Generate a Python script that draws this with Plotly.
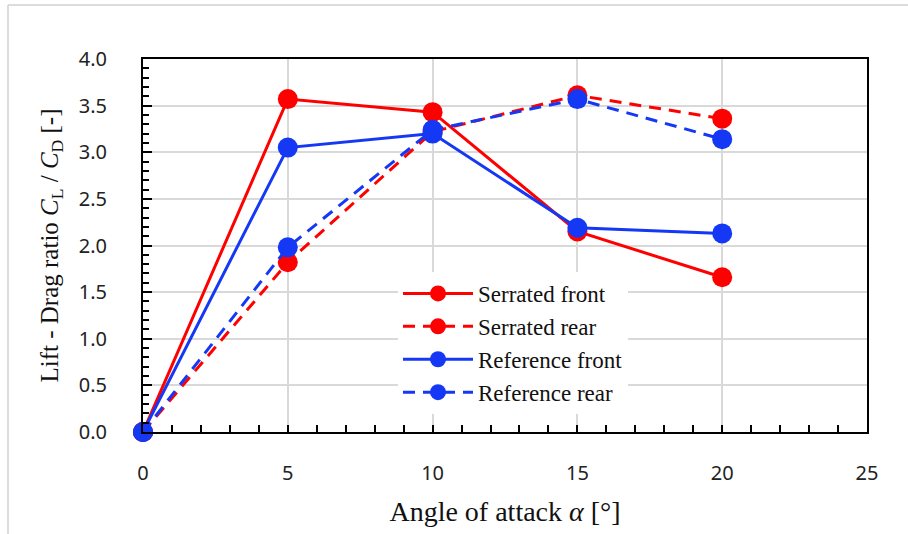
import plotly.graph_objects as go

# Angle of attack (deg) and lift-to-drag ratio for each configuration
alpha = [0, 5, 10, 15, 20]
serrated_front = [0.0, 3.57, 3.43, 2.15, 1.66]
serrated_rear = [0.0, 1.82, 3.22, 3.61, 3.36]
reference_front = [0.0, 3.05, 3.20, 2.19, 2.13]
reference_rear = [0.0, 1.98, 3.24, 3.57, 3.14]

series_names = ["Serrated front", "Serrated rear", "Reference front", "Reference rear"]
series_values = [serrated_front, serrated_rear, reference_front, reference_rear]

RED = "#ff0000"
BLUE = "#1538f5"
styles = [(RED, "solid"), (RED, "12px,8px"), (BLUE, "solid"), (BLUE, "12px,8px")]

W, H = 908, 534
L, R, T, B = 143, 41, 59, 102

fig = go.Figure()
for name, vals, (col, dash) in zip(series_names, series_values, styles):
    fig.add_trace(go.Scatter(
        x=alpha, y=vals, name=name, mode="lines+markers",
        line=dict(color=col, width=3, dash=dash),
        marker=dict(color=col, size=20, symbol="circle"),
        cliponaxis=False,
    ))

serif = "Liberation Serif"
sans = "Noto Sans"
pw = W - L - R
ph = H - T - B

fig.update_layout(
    width=W, height=H,
    margin=dict(l=L, r=R, t=T, b=B),
    paper_bgcolor="white", plot_bgcolor="white",
    showlegend=True,
    legend=dict(
        x=(398 - L) / pw, y=(432 - 272) / ph, xanchor="left", yanchor="top",
        bgcolor="white", borderwidth=0,
        font=dict(family=serif, size=23, color="#111"),
        itemwidth=70, tracegroupgap=0,
    ),
    xaxis=dict(
        range=[0, 25], tick0=0, dtick=5,
        showgrid=True, gridcolor="#d9d9d9", gridwidth=1.5,
        zeroline=False, showline=True, linecolor="black", linewidth=2, mirror=True,
        ticks="inside", ticklen=7, tickwidth=1.5, tickcolor="black",
        minor=dict(dtick=1, ticks="inside", ticklen=7, tickwidth=1.5, tickcolor="black", showgrid=False),
        tickfont=dict(family=sans, size=20, color="#222"),
        ticklabelstandoff=22,
        title=dict(text="Angle of attack <i>α</i> [°]", font=dict(family=serif, size=28, color="#111"), standoff=16),
    ),
    yaxis=dict(
        range=[0, 4.0], tick0=0, dtick=0.5, tickformat=".1f",
        showgrid=True, gridcolor="#d9d9d9", gridwidth=1.5,
        zeroline=False, showline=True, linecolor="black", linewidth=2, mirror=True,
        ticks="inside", ticklen=9, tickwidth=1.5, tickcolor="black",
        minor=dict(dtick=0.1, ticks="inside", ticklen=6, tickwidth=1.5, tickcolor="black", showgrid=False),
        tickfont=dict(family=sans, size=20, color="#222"),
        ticklabelstandoff=30,
        title=dict(text="Lift - Drag ratio <i>C</i><sub>L</sub> / <i>C</i><sub>D</sub> [-]",
                   font=dict(family=serif, size=25, color="#111"), standoff=13),
    ),
    shapes=[
        dict(type="line", xref="paper", yref="paper",
             x0=(8 - L) / pw, x1=(W - L) / pw, y0=(H - B - 5) / ph, y1=(H - B - 5) / ph,
             line=dict(color="#d0d0d0", width=1.5)),
        dict(type="line", xref="paper", yref="paper",
             x0=(8 - L) / pw, x1=(8 - L) / pw, y0=(H - B - 5) / ph, y1=-(B) / ph,
             line=dict(color="#d0d0d0", width=1.5)),
    ],
)

fig.write_html("out.html")
